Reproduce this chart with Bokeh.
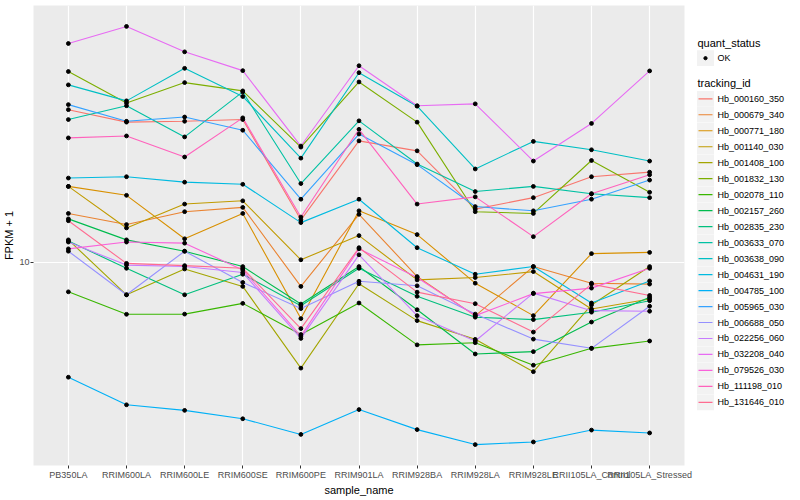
import math
from bokeh.plotting import figure
from bokeh.models import Range1d, FixedTicker, NumeralTickFormatter
from bokeh.layouts import row
from bokeh.embed import file_html
from bokeh.resources import INLINE
from bokeh.core.properties import value

samples = ["PB350LA", "RRIM600LA", "RRIM600LE", "RRIM600SE", "RRIM600PE",
           "RRIM901LA", "RRIM928BA", "RRIM928LA", "RRIM928LE",
           "RRII105LA_Control", "RRII105LA_Stressed"]

tracking_ids = ["Hb_000160_350", "Hb_000679_340", "Hb_000771_180", "Hb_001140_030",
                "Hb_001408_100", "Hb_001832_130", "Hb_002078_110", "Hb_002157_260",
                "Hb_002835_230", "Hb_003633_070", "Hb_003638_090", "Hb_004631_190",
                "Hb_004785_100", "Hb_005965_030", "Hb_006688_050", "Hb_022256_060",
                "Hb_032208_040", "Hb_079526_030", "Hb_111198_010", "Hb_131646_010"]

colors = ["#F8766D", "#EA8331", "#D89000", "#C09B00", "#A3A500", "#7CAE00", "#39B600",
          "#00BB4E", "#00BF7D", "#00C1A3", "#00BFC4", "#00BAE0", "#00B0F6", "#35A2FF",
          "#9590FF", "#C77CFF", "#E76BF3", "#FA62DB", "#FF62BC", "#FF6C91"]

# FPKM + 1 per sample (same order as samples)
hb_000160_350 = [32.6, 29.6, 29.8, 30.2, 13.9, 25.6, 23.7, 15.1, 16.5, 19.4, 20.1]
hb_000679_340 = [14.6, 13.4, 14.8, 15.3, 8.30, 14.5, 8.96, 6.61, 9.68, 8.51, 8.45]
hb_000771_180 = [18.0, 16.8, 12.0, 14.6, 6.47, 14.9, 12.4, 8.51, 6.62, 10.7, 10.8]
hb_001140_030 = [18.0, 13.05, 15.7, 16.1, 10.2, 12.3, 8.73, 8.89, 9.31, 6.97, 7.53]
hb_001408_100 = [11.9, 7.78, 9.50, 8.30, 4.41, 8.47, 6.37, 5.51, 4.29, 7.19, 9.68]
hb_001832_130 = [43.8, 34.3, 40.2, 37.7, 24.4, 40.4, 29.6, 14.8, 14.6, 22.0, 17.2]
hb_002078_110 = [7.96, 6.69, 6.70, 7.28, 5.72, 7.30, 5.28, 5.37, 4.51, 5.14, 5.44]
hb_002157_260 = [14.0, 11.9, 10.9, 9.68, 7.24, 9.68, 6.93, 4.92, 5.01, 6.30, 7.63]
hb_002835_230 = [11.8, 9.55, 7.78, 9.12, 7.15, 9.55, 7.69, 6.54, 6.42, 6.80, 7.43]
hb_003633_070 = [30.2, 33.6, 26.4, 37.4, 18.4, 29.9, 21.4, 17.3, 18.0, 17.0, 16.5]
hb_003638_090 = [39.5, 34.9, 44.9, 36.1, 22.4, 43.4, 33.5, 20.6, 25.5, 23.9, 21.9]
hb_004631_190 = [19.2, 19.4, 18.6, 18.3, 13.6, 16.3, 11.2, 9.12, 9.68, 7.30, 8.66]
hb_004785_100 = [4.11, 3.32, 3.18, 2.98, 2.64, 3.20, 2.74, 2.44, 2.49, 2.73, 2.67]
hb_005965_030 = [33.9, 29.8, 30.8, 27.8, 16.3, 27.0, 21.3, 15.4, 14.9, 16.3, 18.9]
hb_006688_050 = [10.9, 7.78, 10.9, 8.56, 6.99, 8.64, 8.34, 6.70, 5.52, 5.14, 7.12]
hb_022256_060 = [11.7, 9.79, 9.68, 9.24, 5.55, 10.6, 6.62, 5.44, 7.88, 6.88, 6.85]
hb_032208_040 = [54.4, 62.1, 51.0, 44.1, 24.6, 45.8, 33.6, 34.1, 21.9, 29.3, 44.0]
hb_079526_030 = [11.1, 11.7, 11.6, 9.43, 5.65, 11.1, 8.89, 6.62, 7.85, 8.19, 9.55]
hb_111198_010 = [26.2, 26.6, 22.6, 30.6, 14.2, 28.0, 15.7, 16.6, 12.2, 17.0, 19.7]
hb_131646_010 = [13.8, 9.92, 9.75, 9.55, 5.99, 11.2, 7.94, 7.26, 5.83, 8.45, 7.74]

series = [hb_000160_350, hb_000679_340, hb_000771_180, hb_001140_030, hb_001408_100,
          hb_001832_130, hb_002078_110, hb_002157_260, hb_002835_230, hb_003633_070,
          hb_003638_090, hb_004631_190, hb_004785_100, hb_005965_030, hb_006688_050,
          hb_022256_060, hb_032208_040, hb_079526_030, hb_111198_010, hb_131646_010]

FONT = "Liberation Sans"
xs = list(range(1, len(samples) + 1))

allv = [v for s in series for v in s]
lmin, lmax = math.log10(min(allv)), math.log10(max(allv))
pad = 0.05 * (lmax - lmin)

p = figure(width=694, height=498, output_backend="svg", toolbar_location=None,
           title=None, y_axis_type="log",
           x_range=Range1d(0.4, len(samples) + 0.6),
           y_range=Range1d(10 ** (lmin - pad), 10 ** (lmax + pad)),
           min_border_left=0, min_border_right=10, min_border_top=5, min_border_bottom=0,
           background_fill_color="#EBEBEB", border_fill_color="white",
           outline_line_color=None)

p.xaxis.ticker = FixedTicker(ticks=xs)
p.xaxis.major_label_overrides = {x: s for x, s in zip(xs, samples)}
p.yaxis.ticker = FixedTicker(ticks=[10])
p.yaxis.formatter = NumeralTickFormatter(format="0")
p.xgrid.ticker = FixedTicker(ticks=xs)
p.ygrid.ticker = FixedTicker(ticks=[10])
p.grid.grid_line_color = "white"
p.grid.grid_line_width = 1.2
p.grid.minor_grid_line_color = None

for ax in (p.xaxis, p.yaxis):
    ax.axis_line_color = None
    ax.major_tick_line_color = "#333333"
    ax.major_tick_out = 3
    ax.major_tick_in = 0
    ax.minor_tick_line_color = None
    ax.major_label_text_font = FONT
    ax.major_label_text_font_size = "9px"
    ax.major_label_text_color = "#4D4D4D"
    ax.major_label_standoff = 1
    ax.axis_label_text_font = FONT
    ax.axis_label_text_font_size = "11px"
    ax.axis_label_text_font_style = "normal"
    ax.axis_label_text_color = "black"
    ax.axis_label_standoff = 1

p.xaxis.axis_label = "sample_name"
p.yaxis.axis_label = "FPKM + 1"

for vals, c in zip(series, colors):
    p.line(xs, vals, line_color=c, line_width=1.1)
for vals in series:
    p.scatter(xs, vals, size=3.8, color="black")

# legend panel (coordinates in pixels of this panel)
lg = figure(width=104, height=498, output_backend="svg", toolbar_location=None,
            title=None, x_range=Range1d(0, 104), y_range=Range1d(498, 0),
            x_axis_location=None, y_axis_location=None,
            min_border=0, outline_line_color=None,
            background_fill_color="white", border_fill_color="white")
lg.grid.visible = False

lg.text(x=[3], y=[41], text=["quant_status"], text_font=value(FONT),
        text_font_size="11px", text_baseline="middle", text_color="black")
lg.rect(x=[11], y=[57], width=17, height=17, fill_color="#F2F2F2", line_color=None)
lg.scatter(x=[11], y=[57], size=3.2, color="black")
lg.text(x=[23], y=[57], text=["OK"], text_font=value(FONT),
        text_font_size="9px", text_baseline="middle", text_color="black")

lg.text(x=[3], y=[84], text=["tracking_id"], text_font=value(FONT),
        text_font_size="11px", text_baseline="middle", text_color="black")
ys = [101 + 17.3 * i for i in range(len(tracking_ids))]
lg.rect(x=[11] * len(ys), y=ys, width=17, height=17, fill_color="#F2F2F2", line_color=None)
lg.segment(x0=[4] * len(ys), y0=ys, x1=[18] * len(ys), y1=ys, line_color=colors, line_width=1.2)
lg.text(x=[23] * len(ys), y=ys, text=tracking_ids, text_font=value(FONT),
        text_font_size="9px", text_baseline="middle", text_color="black")

layout = row(p, lg)
open("out.html", "w").write(file_html(layout, INLINE))
